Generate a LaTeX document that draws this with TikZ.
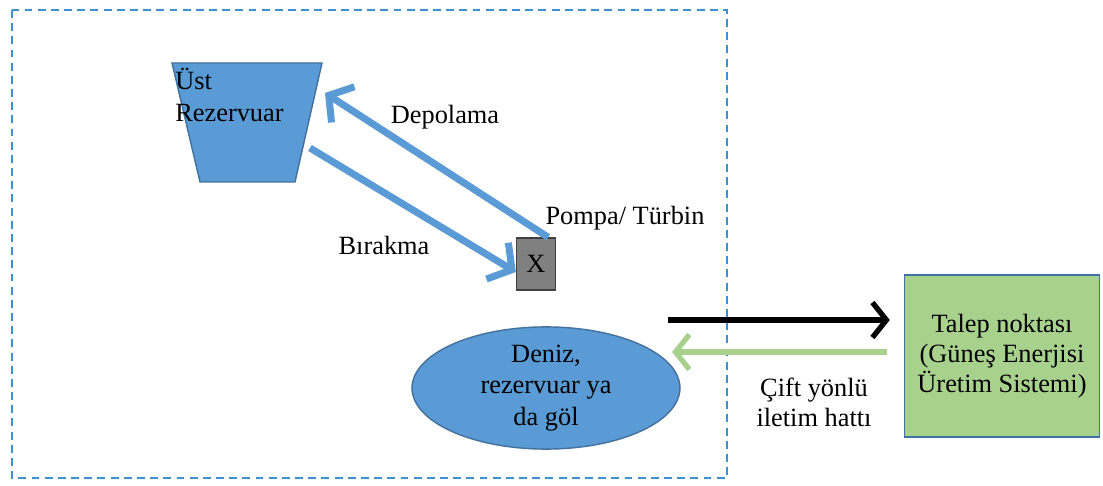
\documentclass[tikz,border=0pt]{standalone}
\usepackage{fontspec}
\setmainfont{Liberation Serif}
\usepackage{tikz}
\usetikzlibrary{positioning, calc, shapes.geometric, arrows.meta}
\definecolor{ResBlue}{HTML}{5B9BD5}
\definecolor{ResEdge}{HTML}{41719C}
\definecolor{LineGreen}{HTML}{A9D18E}
\definecolor{DashBlue}{HTML}{3D8FD6}
\begin{document}
\begin{tikzpicture}[x=0.02cm, y=-0.02cm,
					every node/.style={font=\fontsize{15}{17}\selectfont, text=black},
					FlowArrow/.style={line width=4pt, ResBlue, -{Straight Barb[length=3.4mm, width=8.5mm]}},
					LinkArrow/.style={line width=3pt, -{Straight Barb[length=2.8mm, width=7mm]}},
					PumpNode/.style={rectangle, draw=black!75, fill=black!50, thick, minimum width=0.78cm, minimum height=1.04cm, inner sep=0pt},
					SeaNode/.style={ellipse, draw=ResEdge, fill=ResBlue, thick, minimum width=5.36cm, minimum height=2.3cm, inner sep=0pt, align=center, font=\fontsize{15}{18}\selectfont},
					DemandNode/.style={rectangle, draw=ResEdge, fill=LineGreen, thick, minimum width=3.9cm, minimum height=3.24cm, align=center}]

				\useasboundingbox (0,0) rectangle (1103,486);

				% system border
				\draw[DashBlue, line width=1.1pt, dash pattern=on 4.5pt off 3pt] (12,10) rectangle (727,478);

				% upper reservoir
				\draw[ResEdge, fill=ResBlue, thick] (172,63) -- (322,63) -- (295,182) -- (200,182) -- cycle;
				\node[anchor=north west, align=left, inner sep=0pt, font=\fontsize{15}{18}\selectfont] (Upper) at (175,68) {Üst\\Rezervuar};

				\node[PumpNode] (Pump) at (536,264) {X};
				\node (PumpLabel) at (625,218) {Pompa/ Türbin};

				\node[SeaNode] (Sea) at (546,388) {Deniz,\\rezervuar ya\\da göl};
				\node[DemandNode] (Demand) at (1002,356) {Talep noktası\\(Güneş Enerjisi\\Üretim Sistemi)};

				\coordinate (ResIn) at (325,93);
				\coordinate (ResOut) at (310,148);
				\coordinate (LineStart) at (668,320);
				\coordinate (LineEnd) at (672,352);

				\draw[FlowArrow] ($(Pump.north east) + (-8,0)$) -- (ResIn);
				\draw[FlowArrow] (ResOut) -- ($(Pump.west) + (0,8)$);
				\node (Store) at (445,117) {Depolama};
				\node (Release) at (384,245) {Bırakma};

				\draw[LinkArrow, black] (LineStart) -- ($(Demand.west |- LineStart) + (-14,0)$);
				\draw[LinkArrow, LineGreen] ($(Demand.west |- LineEnd) + (-17,0)$) -- (LineEnd);
				\node[align=center] (Line) at (814,402) {Çift yönlü\\iletim hattı};
			\end{tikzpicture}
\end{document}
